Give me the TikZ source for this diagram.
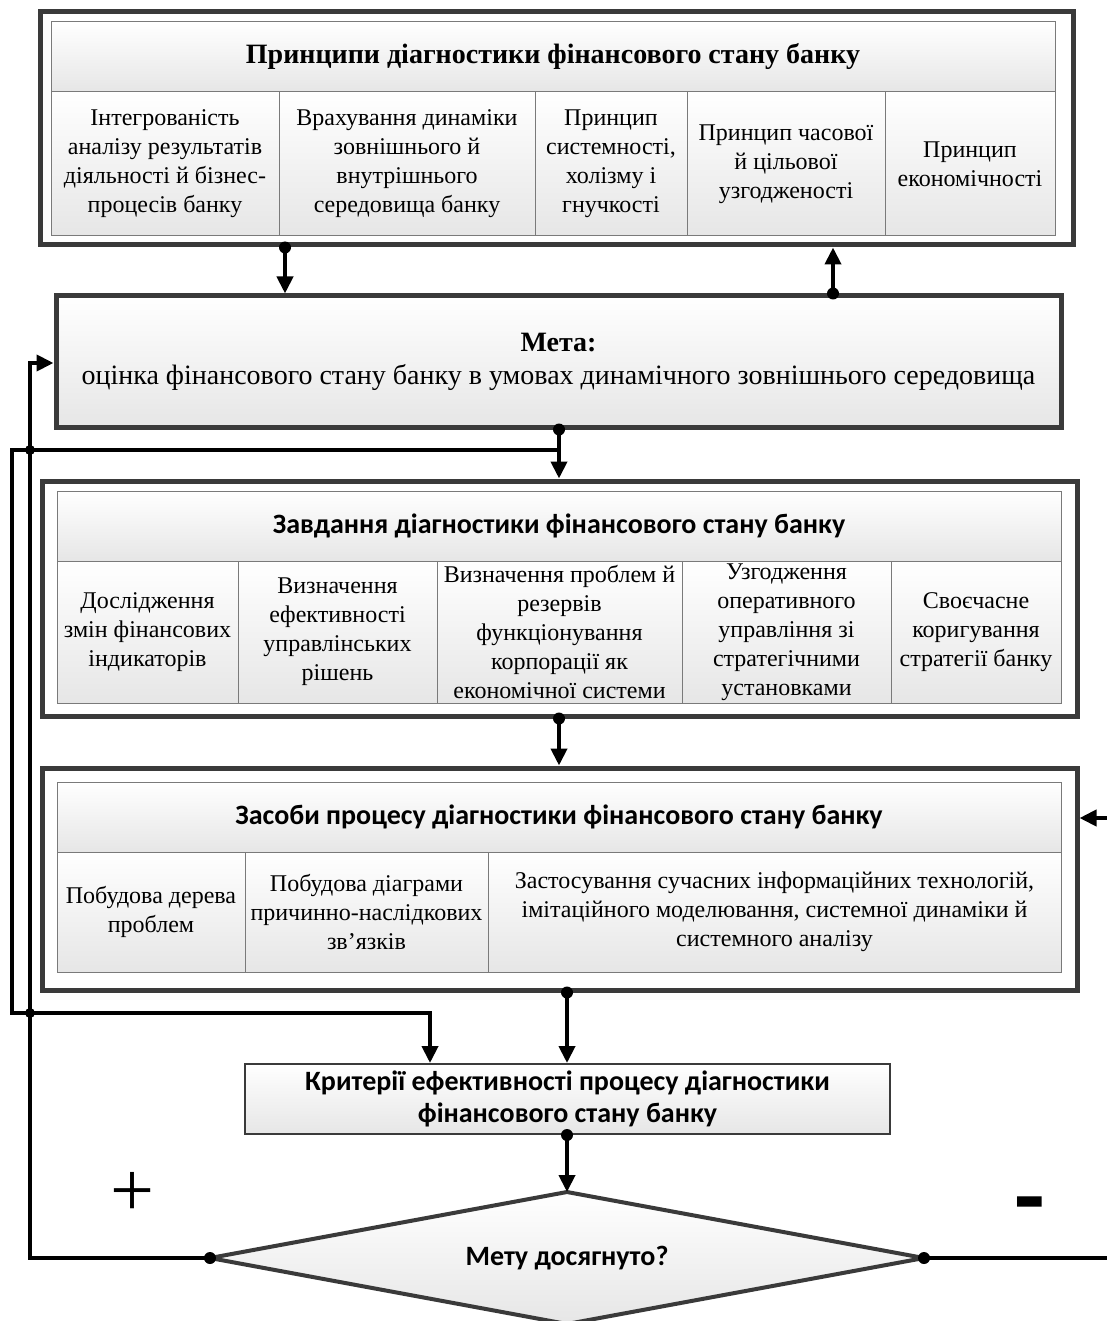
\documentclass[tikz,border=0pt]{standalone}
\usepackage{fontspec}
\setmainfont{Liberation Serif}
\newfontfamily\calfnt{Carlito}
\usetikzlibrary{arrows.meta}
\definecolor{frm}{HTML}{3A3A3A}
\definecolor{tbl}{HTML}{7A7A7A}
\definecolor{shd}{HTML}{E6E6E6}
\newcommand{\tfnt}{\fontsize{24}{29}\selectfont}
\newcommand{\hfnt}{\fontsize{28}{32}\selectfont\bfseries}
\newcommand{\cfnt}{\calfnt\fontsize{28}{32}\selectfont\bfseries}
\tikzset{
  frame/.style={rectangle, draw=frm, line width=5pt, fill=white, inner sep=0pt},
  cellbox/.style={rectangle, draw=tbl, line width=1pt, top color=white, bottom color=shd, inner sep=0pt, align=center, font=\tfnt},
  headbox/.style={cellbox, font=\hfnt},
  cheadbox/.style={cellbox, font=\cfnt},
  conn/.style={line width=4pt, black},
  tip/.style={-{Triangle[length=17pt,width=16pt]}},
}
\begin{document}
\begin{tikzpicture}[x=1pt,y=-1pt]
\useasboundingbox (0,0) rectangle (1107,1321);

% ---------- Principles ----------
\node[frame, minimum width=1033pt, minimum height=233pt] (P) at (556.5,128.5) {};
\node[headbox, minimum width=1004pt, minimum height=70pt] (Ph) at (553,57) {Принципи діагностики фінансового стану банку};
\node[cellbox, minimum width=228pt, minimum height=144pt] (P1) at (165,164) {Інтегрованість\\аналізу результатів\\діяльності й бізнес-\\процесів банку};
\node[cellbox, minimum width=256pt, minimum height=144pt] (P2) at (407,164) {Врахування динаміки\\зовнішнього й\\внутрішнього\\середовища банку};
\node[cellbox, minimum width=152pt, minimum height=144pt] (P3) at (611,164) {Принцип\\системності,\\холізму і\\гнучкості};
\node[cellbox, minimum width=198pt, minimum height=144pt] (P4) at (786,164) {Принцип часової\\й цільової\\узгодженості};
\node[cellbox, minimum width=170pt, minimum height=144pt] (P5) at (970,164) {Принцип\\економічності};

% ---------- Goal ----------
\node[rectangle, draw=frm, line width=5pt, top color=white, bottom color=shd, inner sep=0pt,
      minimum width=1005pt, minimum height=131pt, align=center, font=\fontsize{28}{33}\selectfont] (M) at (558.5,361.5)
      {\textbf{Мета:}\\оцінка фінансового стану банку в умовах динамічного зовнішнього середовища};

% ---------- Tasks ----------
\node[frame, minimum width=1035pt, minimum height=235pt] (T) at (559.5,598.5) {};
\node[cheadbox, minimum width=1004pt, minimum height=70pt] (Th) at (559,526) {Завдання діагностики фінансового стану банку};
\node[cellbox, minimum width=181pt, minimum height=142pt] (T1) at (147.5,632) {Дослідження\\змін фінансових\\індикаторів};
\node[cellbox, minimum width=199pt, minimum height=142pt] (T2) at (337.5,632) {Визначення\\ефективності\\управлінських\\рішень};
\node[cellbox, minimum width=245pt, minimum height=142pt] (T3) at (559.5,632) {Визначення проблем й\\резервів\\функціонування\\корпорації як\\економічної системи};
\node[cellbox, minimum width=209pt, minimum height=142pt] (T4) at (786.5,632) {Узгодження\\оперативного\\управління зі\\стратегічними\\установками};
\node[cellbox, minimum width=170pt, minimum height=142pt] (T5) at (976,632) {Своєчасне\\коригування\\стратегії банку};

% ---------- Means ----------
\node[frame, minimum width=1035pt, minimum height=222pt] (S) at (559.5,879) {};
\node[cheadbox, minimum width=1004pt, minimum height=70pt] (Sh) at (559,817) {Засоби процесу діагностики фінансового стану банку};
\node[cellbox, minimum width=188pt, minimum height=120pt] (S1) at (151,912) {Побудова дерева\\проблем};
\node[cellbox, minimum width=243pt, minimum height=120pt] (S2) at (366.5,912) {Побудова діаграми\\причинно-наслідкових\\зв’язків};
\node[cellbox, minimum width=573pt, minimum height=120pt] (S3) at (774.5,912) {Застосування сучасних інформаційних технологій,\\імітаційного моделювання, системної динаміки й\\системного аналізу};

% ---------- Criteria ----------
\node[rectangle, draw=frm, line width=2pt, top color=white, bottom color=shd, inner sep=0pt,
      minimum width=645pt, minimum height=70pt, align=center, font=\cfnt] (C) at (567.5,1099)
      {Критерії ефективності процесу діагностики\\фінансового стану банку};

% ---------- Decision ----------
\coordinate (Dt) at (567,1192);
\coordinate (Dr) at (924,1258);
\coordinate (Db) at (567,1324);
\coordinate (Dl) at (210,1258);
\draw[draw=frm, line width=4pt, top color=white, bottom color=shd, line join=miter] (Dt) -- (Dr) -- (Db) -- (Dl) -- cycle;
\node[font=\cfnt] (Dtxt) at (567,1258) {Мету досягнуто?};

\node[font=\fontsize{78}{78}\selectfont] (plus) at (132,1194) {+};
\node[font=\calfnt\fontsize{100}{100}\selectfont\bfseries] (minus) at (1030,1214) {-};

% ---------- helper coordinates ----------
\coordinate (xa) at (285,0);
\coordinate (xb) at (833,0);
\coordinate (xc) at (559,0);
\coordinate (xd) at (567,0);
\coordinate (xe) at (430,0);
\coordinate (xl) at (30,0);
\coordinate (xll) at (12,0);
\coordinate (xr) at (1108,0);
\coordinate (yg) at (0,363);
\coordinate (yh) at (0,450);
\coordinate (yk) at (0,1013);
\coordinate (ys) at (0,818);

% ---------- connectors ----------
\draw[conn,tip] (P.south -| xa) -- (M.north -| xa);
\fill (P.south -| xa) circle (6pt);
\draw[conn,tip] (M.north -| xb) -- (P.south -| xb);
\fill (M.north -| xb) circle (6pt);

\draw[conn,tip] (Dl) -- (Dl -| xl) -- (yg -| xl) -- (M.west |- yg);
\fill (Dl) circle (6pt);

\draw[conn] (M.south -| xc) -- (yh -| xc);
\draw[conn,tip] (yh -| xc) -- (T.north -| xc);
\fill (M.south -| xc) circle (6pt);
\draw[conn,tip] (yh -| xc) -- (yh -| xll) -- (yk -| xll) -- (yk -| xe) -- (C.north -| xe);
\fill (yh -| xl) circle (5pt);
\fill (yk -| xl) circle (5pt);

\draw[conn,tip] (T.south -| xc) -- (S.north -| xc);
\fill (T.south -| xc) circle (6pt);

\draw[conn,tip] (S.south -| xd) -- (C.north -| xd);
\fill (S.south -| xd) circle (6pt);

\draw[conn,tip] (C.south -| xd) -- (Dt);
\fill (C.south -| xd) circle (6pt);

\draw[conn] (Dr) -- (Dr -| xr);
\fill (Dr) circle (6pt);
\draw[conn,tip] (ys -| xr) -- (S.east |- ys);
\end{tikzpicture}
\end{document}
